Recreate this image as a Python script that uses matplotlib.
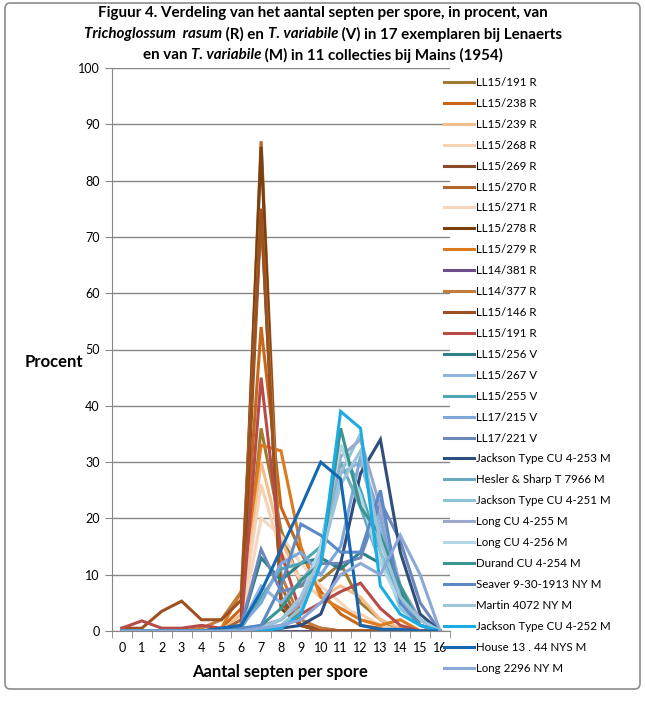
import numpy as np
import matplotlib
matplotlib.use('Agg')
import matplotlib.pyplot as plt
from matplotlib.patches import FancyBboxPatch

plt.rcParams['font.family'] = ['Lato', 'DejaVu Sans']

# category axis: number of septa per spore
septen = list(range(17))

labels = ['LL15/191 R', 'LL15/238 R', 'LL15/239 R', 'LL15/268 R', 'LL15/269 R',
          'LL15/270 R', 'LL15/271 R', 'LL15/278 R', 'LL15/279 R', 'LL14/381 R',
          'LL14/377 R', 'LL15/146 R', 'LL15/191 R',
          'LL15/256 V', 'LL15/267 V', 'LL15/255 V', 'LL17/215 V', 'LL17/221 V',
          'Jackson Type CU 4-253 M', 'Hesler & Sharp T 7966 M', 'Jackson Type CU 4-251 M',
          'Long CU 4-255 M', 'Long CU 4-256 M', 'Durand CU 4-254 M', 'Seaver 9-30-1913 NY M',
          'Martin 4072 NY M', 'Jackson Type CU 4-252 M', 'House 13 . 44 NYS M', 'Long 2296 NY M']

colors = ['#9E7B2F', '#C8661A', '#F3BE8E', '#F6D2B5', '#8C4A28',
          '#B0682E', '#F5D6BE', '#7B4010', '#DD7A1E', '#6B4E8A',
          '#C47B3E', '#9C5220', '#B84A48',
          '#2E8088', '#8FB4DE', '#4FA6B6', '#7FA7D7', '#6C88BA',
          '#2E4E7E', '#6BA9C0', '#8DC5D7', '#9DA9CA', '#B3D7E6',
          '#3A9490', '#5B8AC6', '#9EC4DA', '#1BACE2', '#1467B0', '#8CA8D8']

# percentages per series (0..16 septa)
r191a = [0, 0, 0, 0, 0, 0, 1, 36, 18, 8, 9, 12, 5, 2, 0, 0, 0]
r238 = [0, 0, 0, 0, 0, 0.5, 4, 54, 22, 14, 7, 3, 1, 0.5, 0, 0, 0]
r239 = [0, 0, 0, 0, 0, 0, 3, 30, 16, 9, 6, 8, 6, 2, 0.5, 0, 0]
r268 = [0, 0, 0, 0, 0, 0, 2, 26, 14, 9, 6, 4, 3, 1, 0, 0, 0]
r269 = [0, 0, 0, 0, 0, 0, 0.5, 74, 6, 1, 0.5, 0, 0, 0, 0, 0, 0]
r270 = [0, 0, 0, 0, 0, 0, 2, 87, 8, 1, 0, 0, 0, 0, 0, 0, 0]
r271 = [0, 0, 0, 0, 0, 0, 1, 20, 17, 12, 8, 5, 2, 1, 0, 0, 0]
r278 = [0, 0, 0, 0, 0, 0, 1, 86, 4, 1, 0, 0, 0, 0, 0, 0, 0]
r279 = [0, 0, 0, 0, 0, 0.5, 7, 33, 32, 15, 6, 4, 2, 1, 2, 0, 0]
r381 = [0, 0, 0, 0, 0, 0, 0, 0, 0, 0, 0, 0, 0, 0, 0, 0, 0]
r377 = [0, 0, 0, 0, 0.5, 2, 7, 75, 10, 2, 0.5, 0, 0, 0, 0, 0, 0]
r146 = [0.5, 0.5, 3.5, 5.3, 2, 2, 5.5, 75, 5, 1, 0, 0, 0, 0, 0, 0, 0]
r191b = [0.5, 1.8, 0.5, 0.5, 1, 0.5, 1, 45, 14, 3, 5, 7, 8.5, 4, 1, 0, 0]

v256 = [0, 0, 0, 0, 0, 0, 1, 13, 9, 12, 13, 11, 14, 12, 7, 2, 0]
v267 = [0, 0, 0, 0, 0, 0, 1, 8, 5, 9, 13, 28, 30, 18, 8, 2, 0]
v255 = [0, 0, 0, 0, 0, 0, 0.5, 6, 11, 12, 15, 33, 25, 14, 6, 1, 0]
v215 = [0, 0, 0, 0, 0, 0, 1, 5, 12, 14, 10, 15, 31, 20, 6, 1, 0]
v221 = [0, 0, 0, 0, 0, 0, 1, 14.5, 7, 8, 12, 12, 13, 23, 16, 5, 0]

m253 = [0, 0, 0, 0, 0, 0, 0, 0, 0.5, 1, 3, 12, 28, 34, 14, 3, 0]
hesler = [0, 0, 0, 0, 0, 0, 0, 0.5, 2, 5, 14, 30, 22, 12, 6, 2, 0]
m251 = [0, 0, 0, 0, 0, 0, 0, 0.5, 1, 4, 12, 28, 35, 14, 4, 1, 0]
long255 = [0, 0, 0, 0, 0, 0, 0, 1, 2, 5, 14, 31, 34, 22, 8, 2, 0]
long256 = [0, 0, 0, 0, 0, 0, 0, 0.5, 2, 6, 15, 33, 24, 12, 5, 1, 0]
durand = [0, 0, 0, 0, 0, 0, 0, 1, 4, 9, 12, 36, 22, 17, 8, 1, 0]
seaver = [0, 0, 0, 0, 0, 0, 0.5, 1, 8, 19, 17, 14, 14, 25, 5, 1, 0]
martin = [0, 0, 0, 0, 0, 0, 0, 0.5, 2, 6, 13, 26, 32, 16, 6, 2, 0]
m252 = [0, 0, 0, 0, 0, 0, 0, 0, 0.5, 3, 12, 39, 36, 8, 3, 1, 0]
house = [0, 0, 0, 0, 0, 0.5, 1, 7, 14.5, 22, 30, 27, 1, 0.3, 0.3, 0, 0]
long2296 = [0, 0, 0, 0, 0, 0, 0, 0.5, 1, 2, 5, 10, 12, 10, 17, 10, 0]

series = [r191a, r238, r239, r268, r269, r270, r271, r278, r279, r381, r377, r146, r191b,
          v256, v267, v255, v215, v221,
          m253, hesler, m251, long255, long256, durand, seaver, martin, m252, house, long2296]

fig = plt.figure(figsize=(6.45, 7.11), dpi=100)
W, H = 645, 711

# chart area border
fig.patches.append(FancyBboxPatch((5 / W, 22 / H), 635 / W, 686 / H, boxstyle='round,pad=0,rounding_size=0.008',
                                  transform=fig.transFigure, fill=False, edgecolor='#8C8C8C', lw=1.2))

ax = fig.add_axes([112 / W, 80 / H, 338 / W, 563 / H])
for s, c, lab in zip(series, colors, labels):
    ax.plot(septen, s, color=c, lw=2.2, label=lab, solid_joinstyle='miter')

ax.set_xlim(-0.5, 16.5)
ax.set_ylim(0, 100)
ax.set_yticks(range(0, 101, 10))
ax.yaxis.grid(True, color='#868686', lw=1)
ax.set_axisbelow(True)
ax.set_xticks(septen)
ax.set_xticks(np.arange(-0.5, 17, 1), minor=True)
ax.tick_params(axis='x', which='major', length=0, pad=8, labelsize=9)
ax.tick_params(axis='x', which='minor', length=5, color='#868686', direction='out')
ax.tick_params(axis='y', length=5, color='#868686', labelsize=9, pad=4)
for sp in ['top', 'right']:
    ax.spines[sp].set_visible(False)
for sp in ['left', 'bottom']:
    ax.spines[sp].set_color('#868686')

fig.text(25 / W, 1 - 362 / H, 'Procent', fontsize=12, fontweight='bold', ha='left', va='center')
fig.text(280 / W, 1 - 672 / H, 'Aantal septen per spore', fontsize=12, fontweight='bold', ha='center', va='center')

ax.legend(loc='upper left', bbox_to_anchor=(444 / W, 1 - 77 / H), bbox_transform=fig.transFigure,
          frameon=False, fontsize=8.3, handlelength=2.6, handletextpad=0.2, labelspacing=0.86,
          borderaxespad=0, borderpad=0)

# title with mixed italic pieces
title_lines = [
    [('Figuur 4. Verdeling van het aantal septen per spore, in procent, van', 'normal')],
    [('Trichoglossum  rasum', 'italic'), (' (R) en ', 'normal'), ('T. variabile', 'italic'),
     (' (V) in 17 exemplaren bij Lenaerts', 'normal')],
    [('en van ', 'normal'), ('T. variabile', 'italic'), (' (M) in 11 collecties bij Mains (1954)', 'normal')],
]
title_y = [13, 34, 55]
renderer = fig.canvas.get_renderer()
for parts, yy in zip(title_lines, title_y):
    texts = []
    for txt, style in parts:
        t = fig.text(0, 1 - yy / H, txt, fontsize=10.9, fontweight='bold', style=style, va='center', ha='left')
        texts.append(t)
    widths = [t.get_window_extent(renderer).width for t in texts]
    x0 = 323 - sum(widths) / 2
    for t, w in zip(texts, widths):
        t.set_x(x0 / W)
        x0 += w

fig.savefig('out.png', dpi=100)
